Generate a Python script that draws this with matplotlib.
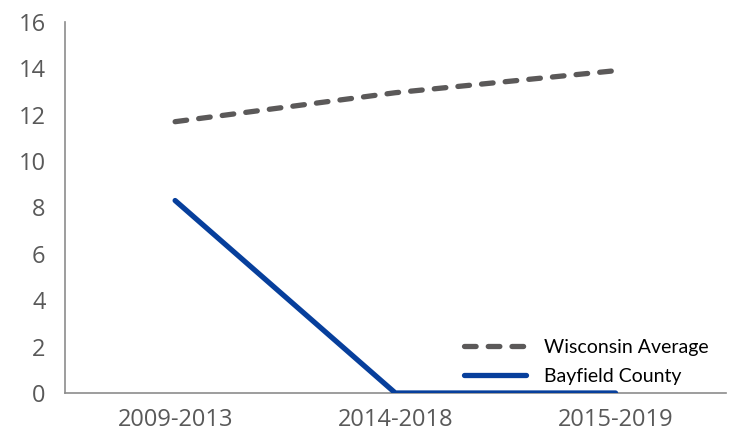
#!/usr/bin/env python3
"""Wisconsin Average vs Bayfield County, line chart."""
import matplotlib
matplotlib.use("Agg")
import matplotlib.pyplot as plt

periods = ["2009-2013", "2014-2018", "2015-2019"]
wisconsin = [11.7, 12.95, 13.9]
bayfield = [8.3, 0.0, 0.0]

fig = plt.figure(figsize=(7.33, 4.36), dpi=100)
ax = fig.add_axes([0.0887, 0.0986, 0.9013, 0.851])

x = range(len(periods))
ax.plot(x, wisconsin, color="#5b5959", lw=3.8, ls=(0, (2.2, 2.3)),
        dash_capstyle="round", label="Wisconsin Average")
ax.plot(x, bayfield, color="#073f9c", lw=3.8, solid_capstyle="round",
        label="Bayfield County", zorder=3)

ax.set_xlim(-0.5, 2.5)
ax.set_ylim(0, 16)
ax.set_yticks(range(0, 17, 2))
ax.set_xticks(list(x))
ax.set_xticklabels(periods)

for s in ("top", "right"):
    ax.spines[s].set_visible(False)
for s in ("left", "bottom"):
    ax.spines[s].set_color("#8c8c8c")
    ax.spines[s].set_linewidth(1.2)
ax.tick_params(length=0, labelsize=17, labelcolor="#595959", pad=14)
ax.tick_params(axis="x", pad=11)
for t in ax.get_xticklabels() + ax.get_yticklabels():
    t.set_family("Open Sans")

leg = ax.legend(loc="lower right", frameon=False, handlelength=3.2,
                handletextpad=0.9, prop={"family": "Lato", "size": 14},
                bbox_to_anchor=(1.0, -0.025), labelspacing=0.6)

fig.savefig("out.png", dpi=100)
